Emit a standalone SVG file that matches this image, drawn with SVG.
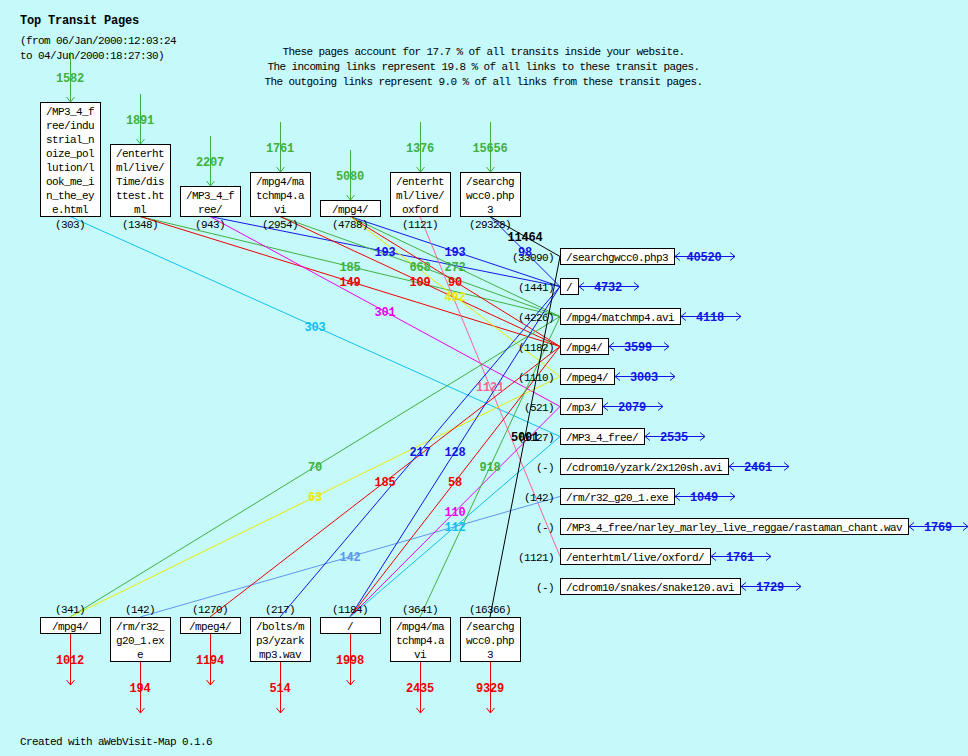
<svg xmlns="http://www.w3.org/2000/svg" width="968" height="756" viewBox="0 0 968 756">
<defs>
<style>
.t{font-family:"Liberation Mono","DejaVu Sans Mono",monospace;font-size:11px;letter-spacing:-0.6px;fill:#000}
.m{text-anchor:middle}
.e{text-anchor:end}
.h{font-family:"Liberation Mono","DejaVu Sans Mono",monospace;font-size:12px;font-weight:bold;letter-spacing:-0.2px;fill:#000}
.b{font-family:"Liberation Mono","DejaVu Sans Mono",monospace;font-size:12px;font-weight:bold;letter-spacing:-0.2px;text-anchor:middle}
.box{fill:#fff;stroke:#000;stroke-width:1}
.ln{fill:none;stroke-width:1}
.sg{stroke:#40b040}.fg{fill:#40b040}
.sr{stroke:#ee0000}.fr{fill:#ee0000}
.sb{stroke:#1414e6}.fb{fill:#1414e6}
.sy{stroke:#eaea00}.fy{fill:#eaea00}
.sm{stroke:#ee00ee}.fm{fill:#ee00ee}
.sc{stroke:#10c0f0}.fc{fill:#10c0f0}
.sp{stroke:#ff6090}.fp{fill:#ff6090}
.sl{stroke:#6095f0}.fl{fill:#6095f0}
.sk{stroke:#000}.fk{fill:#000}
</style>
<marker id="ag" viewBox="-6 -5 7 10" markerWidth="7" markerHeight="10" refX="0" refY="0" orient="auto" markerUnits="userSpaceOnUse"><path d="M-5,-4L0,0L-5,4" fill="none" stroke="#40b040" stroke-width="1"/></marker>
<marker id="ar" viewBox="-6 -5 7 10" markerWidth="7" markerHeight="10" refX="0" refY="0" orient="auto" markerUnits="userSpaceOnUse"><path d="M-5,-4L0,0L-5,4" fill="none" stroke="#ee0000" stroke-width="1"/></marker>
<marker id="ab" viewBox="-6 -5 7 10" markerWidth="7" markerHeight="10" refX="0" refY="0" orient="auto-start-reverse" markerUnits="userSpaceOnUse"><path d="M-5,-4L0,0L-5,4" fill="none" stroke="#1414e6" stroke-width="1"/></marker>
</defs>
<rect x="0" y="0" width="968" height="756" fill="#c6fafa"/>

<g id="header">
<text class="h" x="20" y="24">Top Transit Pages</text>
<text class="t" x="20" y="44">(from 06/Jan/2000:12:03:24</text>
<text class="t" x="20" y="59">to 04/Jun/2000:18:27:30)</text>
<text class="t m" x="483.5" y="55">These pages account for 17.7 % of all transits inside your website.</text>
<text class="t m" x="483.5" y="70">The incoming links represent 19.8 % of all links to these transit pages.</text>
<text class="t m" x="483.5" y="85">The outgoing links represent 9.0 % of all links from these transit pages.</text>
</g>

<g id="connectors">
<line class="ln sc" x1="70" y1="216.5" x2="560" y2="436.5"/>
<line class="ln sg" x1="140" y1="216.5" x2="560" y2="316.5"/>
<line class="ln sr" x1="140" y1="216.5" x2="560" y2="346.5"/>
<line class="ln sb" x1="210" y1="216.5" x2="560" y2="286.5"/>
<line class="ln sm" x1="210" y1="216.5" x2="560" y2="406.5"/>
<line class="ln sg" x1="280" y1="216.5" x2="560" y2="316.5"/>
<line class="ln sr" x1="280" y1="216.5" x2="560" y2="346.5"/>
<line class="ln sb" x1="350" y1="216.5" x2="560" y2="286.5"/>
<line class="ln sg" x1="350" y1="216.5" x2="560" y2="316.5"/>
<line class="ln sr" x1="350" y1="216.5" x2="560" y2="346.5"/>
<line class="ln sy" x1="350" y1="216.5" x2="560" y2="376.5"/>
<line class="ln sp" x1="420" y1="216.5" x2="560" y2="556.5"/>
<line class="ln sk" x1="490" y1="216.5" x2="560" y2="256.5"/>
<line class="ln sb" x1="490" y1="216.5" x2="560" y2="286.5"/>
<line class="ln sg" x1="560" y1="316.5" x2="70" y2="617"/>
<line class="ln sy" x1="560" y1="376.5" x2="70" y2="617"/>
<line class="ln sl" x1="560" y1="496.5" x2="140" y2="617"/>
<line class="ln sr" x1="560" y1="346.5" x2="210" y2="617"/>
<line class="ln sb" x1="560" y1="286.5" x2="280" y2="617"/>
<line class="ln sb" x1="560" y1="286.5" x2="350" y2="617"/>
<line class="ln sr" x1="560" y1="346.5" x2="350" y2="617"/>
<line class="ln sm" x1="560" y1="406.5" x2="350" y2="617"/>
<line class="ln sc" x1="560" y1="436.5" x2="350" y2="617"/>
<line class="ln sg" x1="560" y1="316.5" x2="420" y2="617"/>
<line class="ln sk" x1="560" y1="256.5" x2="490" y2="617"/>
</g>

<g id="n-top-1">
<line class="ln sg" x1="70.5" y1="52" x2="70.5" y2="102" marker-end="url(#ag)"/>
<text class="b fg" x="70" y="82">1582</text>
<rect class="box" x="40.5" y="102.5" width="60" height="114"/>
<text class="t m" x="70" y="115">/MP3_4_f<tspan x="70" dy="14">ree/indu</tspan><tspan x="70" dy="14">strial_n</tspan><tspan x="70" dy="14">oize_pol</tspan><tspan x="70" dy="14">lution/l</tspan><tspan x="70" dy="14">ook_me_i</tspan><tspan x="70" dy="14">n_the_ey</tspan><tspan x="70" dy="14">e.html</tspan></text>
<text class="t m" x="70" y="228">(303)</text>
</g>
<g id="n-top-2">
<line class="ln sg" x1="140.5" y1="94" x2="140.5" y2="144" marker-end="url(#ag)"/>
<text class="b fg" x="140" y="124">1891</text>
<rect class="box" x="110.5" y="144.5" width="60" height="72"/>
<text class="t m" x="140" y="157">/enterht<tspan x="140" dy="14">ml/live/</tspan><tspan x="140" dy="14">Time/dis</tspan><tspan x="140" dy="14">ttest.ht</tspan><tspan x="140" dy="14">ml</tspan></text>
<text class="t m" x="140" y="228">(1348)</text>
</g>
<g id="n-top-3">
<line class="ln sg" x1="210.5" y1="136" x2="210.5" y2="186" marker-end="url(#ag)"/>
<text class="b fg" x="210" y="166">2207</text>
<rect class="box" x="180.5" y="186.5" width="60" height="30"/>
<text class="t m" x="210" y="199">/MP3_4_f<tspan x="210" dy="14">ree/</tspan></text>
<text class="t m" x="210" y="228">(943)</text>
</g>
<g id="n-top-4">
<line class="ln sg" x1="280.5" y1="122" x2="280.5" y2="172" marker-end="url(#ag)"/>
<text class="b fg" x="280" y="152">1761</text>
<rect class="box" x="250.5" y="172.5" width="60" height="44"/>
<text class="t m" x="280" y="185">/mpg4/ma<tspan x="280" dy="14">tchmp4.a</tspan><tspan x="280" dy="14">vi</tspan></text>
<text class="t m" x="280" y="228">(2954)</text>
</g>
<g id="n-top-5">
<line class="ln sg" x1="350.5" y1="150" x2="350.5" y2="200" marker-end="url(#ag)"/>
<text class="b fg" x="350" y="180">5080</text>
<rect class="box" x="320.5" y="200.5" width="60" height="16"/>
<text class="t m" x="350" y="213">/mpg4/</text>
<text class="t m" x="350" y="228">(4788)</text>
</g>
<g id="n-top-6">
<line class="ln sg" x1="420.5" y1="122" x2="420.5" y2="172" marker-end="url(#ag)"/>
<text class="b fg" x="420" y="152">1376</text>
<rect class="box" x="390.5" y="172.5" width="60" height="44"/>
<text class="t m" x="420" y="185">/enterht<tspan x="420" dy="14">ml/live/</tspan><tspan x="420" dy="14">oxford</tspan></text>
<text class="t m" x="420" y="228">(1121)</text>
</g>
<g id="n-top-7">
<line class="ln sg" x1="490.5" y1="122" x2="490.5" y2="172" marker-end="url(#ag)"/>
<text class="b fg" x="490" y="152">15656</text>
<rect class="box" x="460.5" y="172.5" width="60" height="44"/>
<text class="t m" x="490" y="185">/searchg<tspan x="490" dy="14">wcc0.php</tspan><tspan x="490" dy="14">3</tspan></text>
<text class="t m" x="490" y="228">(29328)</text>
</g>

<g id="n-right-1">
<text class="t e" x="554" y="261">(33090)</text>
<rect class="box" x="560.5" y="248.5" width="114" height="16"/>
<text class="t" x="566" y="261">/searchgwcc0.php3</text>
<line class="ln sb" x1="675" y1="256.5" x2="735" y2="256.5" marker-start="url(#ab)" marker-end="url(#ab)"/>
<text class="b fb" x="704" y="261">40520</text>
</g>
<g id="n-right-2">
<text class="t e" x="554" y="291">(1441)</text>
<rect class="box" x="560.5" y="278.5" width="18" height="16"/>
<text class="t" x="566" y="291">/</text>
<line class="ln sb" x1="579" y1="286.5" x2="639" y2="286.5" marker-start="url(#ab)" marker-end="url(#ab)"/>
<text class="b fb" x="608" y="291">4732</text>
</g>
<g id="n-right-3">
<text class="t e" x="554" y="321">(4226)</text>
<rect class="box" x="560.5" y="308.5" width="120" height="16"/>
<text class="t" x="566" y="321">/mpg4/matchmp4.avi</text>
<line class="ln sb" x1="681" y1="316.5" x2="741" y2="316.5" marker-start="url(#ab)" marker-end="url(#ab)"/>
<text class="b fb" x="710" y="321">4118</text>
</g>
<g id="n-right-4">
<text class="t e" x="554" y="351">(1182)</text>
<rect class="box" x="560.5" y="338.5" width="48" height="16"/>
<text class="t" x="566" y="351">/mpg4/</text>
<line class="ln sb" x1="609" y1="346.5" x2="669" y2="346.5" marker-start="url(#ab)" marker-end="url(#ab)"/>
<text class="b fb" x="638" y="351">3599</text>
</g>
<g id="n-right-5">
<text class="t e" x="554" y="381">(1110)</text>
<rect class="box" x="560.5" y="368.5" width="54" height="16"/>
<text class="t" x="566" y="381">/mpeg4/</text>
<line class="ln sb" x1="615" y1="376.5" x2="675" y2="376.5" marker-start="url(#ab)" marker-end="url(#ab)"/>
<text class="b fb" x="644" y="381">3003</text>
</g>
<g id="n-right-6">
<text class="t e" x="554" y="411">(521)</text>
<rect class="box" x="560.5" y="398.5" width="42" height="16"/>
<text class="t" x="566" y="411">/mp3/</text>
<line class="ln sb" x1="603" y1="406.5" x2="663" y2="406.5" marker-start="url(#ab)" marker-end="url(#ab)"/>
<text class="b fb" x="632" y="411">2079</text>
</g>
<g id="n-right-7">
<text class="t e" x="554" y="441">(1127)</text>
<rect class="box" x="560.5" y="428.5" width="84" height="16"/>
<text class="t" x="566" y="441">/MP3_4_free/</text>
<line class="ln sb" x1="645" y1="436.5" x2="705" y2="436.5" marker-start="url(#ab)" marker-end="url(#ab)"/>
<text class="b fb" x="674" y="441">2535</text>
</g>
<g id="n-right-8">
<text class="t e" x="554" y="471">(-)</text>
<rect class="box" x="560.5" y="458.5" width="168" height="16"/>
<text class="t" x="566" y="471">/cdrom10/yzark/2x120sh.avi</text>
<line class="ln sb" x1="729" y1="466.5" x2="789" y2="466.5" marker-start="url(#ab)" marker-end="url(#ab)"/>
<text class="b fb" x="758" y="471">2461</text>
</g>
<g id="n-right-9">
<text class="t e" x="554" y="501">(142)</text>
<rect class="box" x="560.5" y="488.5" width="114" height="16"/>
<text class="t" x="566" y="501">/rm/r32_g20_1.exe</text>
<line class="ln sb" x1="675" y1="496.5" x2="735" y2="496.5" marker-start="url(#ab)" marker-end="url(#ab)"/>
<text class="b fb" x="704" y="501">1049</text>
</g>
<g id="n-right-10">
<text class="t e" x="554" y="531">(-)</text>
<rect class="box" x="560.5" y="518.5" width="348" height="16"/>
<text class="t" x="566" y="531">/MP3_4_free/narley_marley_live_reggae/rastaman_chant.wav</text>
<line class="ln sb" x1="909" y1="526.5" x2="968" y2="526.5" marker-start="url(#ab)" marker-end="url(#ab)"/>
<text class="b fb" x="938" y="531">1769</text>
</g>
<g id="n-right-11">
<text class="t e" x="554" y="561">(1121)</text>
<rect class="box" x="560.5" y="548.5" width="150" height="16"/>
<text class="t" x="566" y="561">/enterhtml/live/oxford/</text>
<line class="ln sb" x1="711" y1="556.5" x2="771" y2="556.5" marker-start="url(#ab)" marker-end="url(#ab)"/>
<text class="b fb" x="740" y="561">1761</text>
</g>
<g id="n-right-12">
<text class="t e" x="554" y="591">(-)</text>
<rect class="box" x="560.5" y="578.5" width="180" height="16"/>
<text class="t" x="566" y="591">/cdrom10/snakes/snake120.avi</text>
<line class="ln sb" x1="741" y1="586.5" x2="801" y2="586.5" marker-start="url(#ab)" marker-end="url(#ab)"/>
<text class="b fb" x="770" y="591">1729</text>
</g>

<g id="n-bottom-1">
<text class="t m" x="70" y="613">(341)</text>
<rect class="box" x="40.5" y="617.5" width="60" height="16"/>
<text class="t m" x="70" y="630">/mpg4/</text>
<line class="ln sr" x1="70.5" y1="634" x2="70.5" y2="685" marker-end="url(#ar)"/>
<text class="b fr" x="70" y="664">1012</text>
</g>
<g id="n-bottom-2">
<text class="t m" x="140" y="613">(142)</text>
<rect class="box" x="110.5" y="617.5" width="60" height="44"/>
<text class="t m" x="140" y="630">/rm/r32_<tspan x="140" dy="14">g20_1.ex</tspan><tspan x="140" dy="14">e</tspan></text>
<line class="ln sr" x1="140.5" y1="662" x2="140.5" y2="713" marker-end="url(#ar)"/>
<text class="b fr" x="140" y="692">194</text>
</g>
<g id="n-bottom-3">
<text class="t m" x="210" y="613">(1270)</text>
<rect class="box" x="180.5" y="617.5" width="60" height="16"/>
<text class="t m" x="210" y="630">/mpeg4/</text>
<line class="ln sr" x1="210.5" y1="634" x2="210.5" y2="685" marker-end="url(#ar)"/>
<text class="b fr" x="210" y="664">1194</text>
</g>
<g id="n-bottom-4">
<text class="t m" x="280" y="613">(217)</text>
<rect class="box" x="250.5" y="617.5" width="60" height="44"/>
<text class="t m" x="280" y="630">/bolts/m<tspan x="280" dy="14">p3/yzark</tspan><tspan x="280" dy="14">mp3.wav</tspan></text>
<line class="ln sr" x1="280.5" y1="662" x2="280.5" y2="713" marker-end="url(#ar)"/>
<text class="b fr" x="280" y="692">514</text>
</g>
<g id="n-bottom-5">
<text class="t m" x="350" y="613">(1184)</text>
<rect class="box" x="320.5" y="617.5" width="60" height="16"/>
<text class="t m" x="350" y="630">/</text>
<line class="ln sr" x1="350.5" y1="634" x2="350.5" y2="685" marker-end="url(#ar)"/>
<text class="b fr" x="350" y="664">1998</text>
</g>
<g id="n-bottom-6">
<text class="t m" x="420" y="613">(3641)</text>
<rect class="box" x="390.5" y="617.5" width="60" height="44"/>
<text class="t m" x="420" y="630">/mpg4/ma<tspan x="420" dy="14">tchmp4.a</tspan><tspan x="420" dy="14">vi</tspan></text>
<line class="ln sr" x1="420.5" y1="662" x2="420.5" y2="713" marker-end="url(#ar)"/>
<text class="b fr" x="420" y="692">2435</text>
</g>
<g id="n-bottom-7">
<text class="t m" x="490" y="613">(16366)</text>
<rect class="box" x="460.5" y="617.5" width="60" height="44"/>
<text class="t m" x="490" y="630">/searchg<tspan x="490" dy="14">wcc0.php</tspan><tspan x="490" dy="14">3</tspan></text>
<line class="ln sr" x1="490.5" y1="662" x2="490.5" y2="713" marker-end="url(#ar)"/>
<text class="b fr" x="490" y="692">9329</text>
</g>

<g id="edge-labels">
<text class="b fc" x="315" y="331">303</text>
<text class="b fg" x="350" y="271">185</text>
<text class="b fr" x="350" y="286">149</text>
<text class="b fb" x="385" y="256">193</text>
<text class="b fm" x="385" y="316">301</text>
<text class="b fg" x="420" y="271">668</text>
<text class="b fr" x="420" y="286">109</text>
<text class="b fb" x="455" y="256">193</text>
<text class="b fg" x="455" y="271">272</text>
<text class="b fr" x="455" y="286">90</text>
<text class="b fy" x="455" y="301">492</text>
<text class="b fp" x="490" y="391">1121</text>
<text class="b fk" x="525" y="241">11464</text>
<text class="b fb" x="525" y="256">98</text>
<text class="b fg" x="315" y="471">70</text>
<text class="b fy" x="315" y="501">63</text>
<text class="b fl" x="350" y="561">142</text>
<text class="b fr" x="385" y="486">185</text>
<text class="b fb" x="420" y="456">217</text>
<text class="b fb" x="455" y="456">128</text>
<text class="b fr" x="455" y="486">58</text>
<text class="b fm" x="455" y="516">110</text>
<text class="b fc" x="455" y="531">112</text>
<text class="b fg" x="490" y="471">918</text>
<text class="b fk" x="525" y="441">5001</text>
</g>

<g id="footer">
<text class="t" x="20" y="745">Created with aWebVisit-Map 0.1.6</text>
</g>
</svg>
